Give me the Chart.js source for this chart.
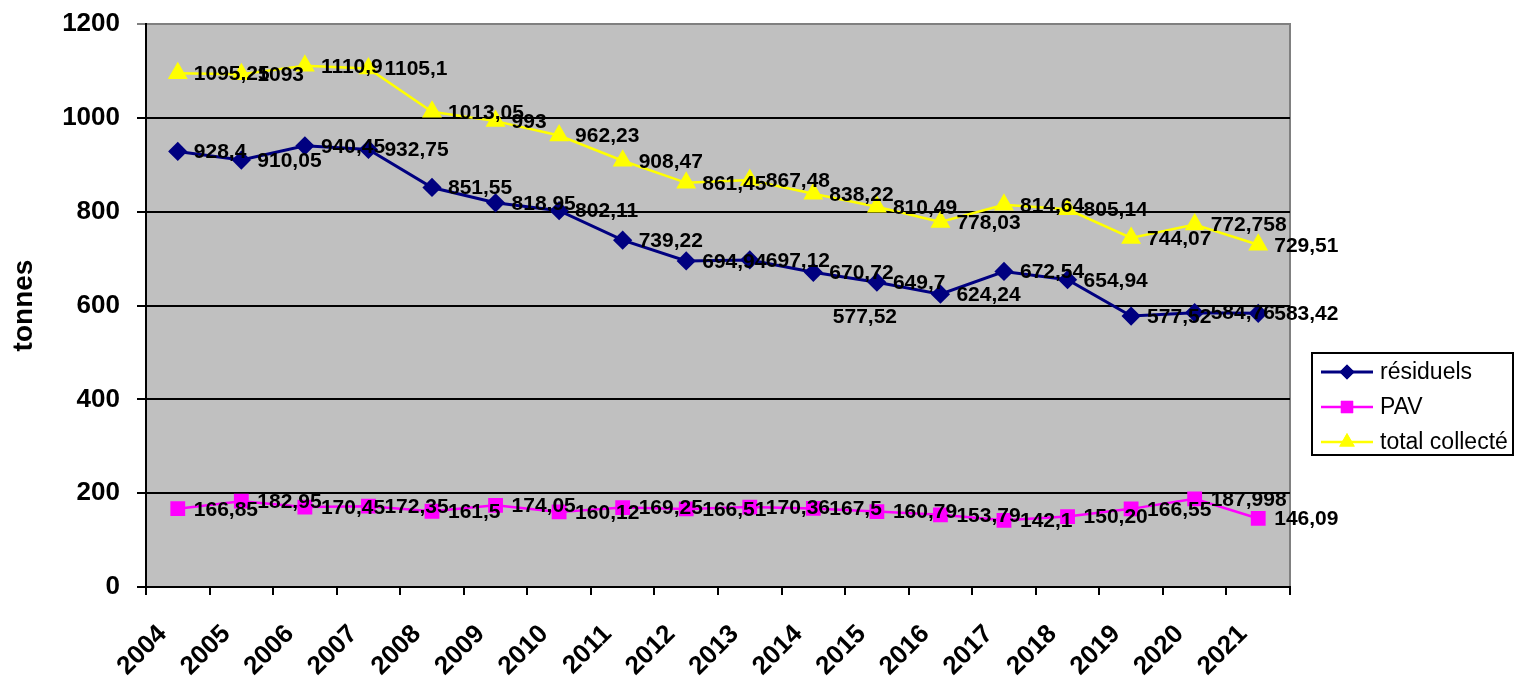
<!DOCTYPE html>
<html lang="fr">
<head>
    <meta charset="UTF-8">
    <title>Tonnages collectés</title>
    <script src="https://cdn.jsdelivr.net/npm/chart.js"></script>
    <style>
        html, body { margin: 0; padding: 0; background: #fff; }
        .chart-container { width: 1516px; height: 678px; }
    </style>
</head>
<body>
    <div class="chart-container">
        <canvas id="lineChart"></canvas>
    </div>

    <script>
        const years = ['2004', '2005', '2006', '2007', '2008', '2009', '2010', '2011', '2012',
                       '2013', '2014', '2015', '2016', '2017', '2018', '2019', '2020', '2021'];

        // values as printed on the chart (comma decimals)
        const residuelsText = ['928,4', '910,05', '940,45', '932,75', '851,55', '818,95', '802,11', '739,22', '694,94',
                               '697,12', '670,72', '649,7', '624,24', '672,54', '654,94', '577,52', '584,76', '583,42'];
        const pavText = ['166,85', '182,95', '170,45', '172,35', '161,5', '174,05', '160,12', '169,25', '166,51',
                         '170,36', '167,5', '160,79', '153,79', '142,1', '150,20', '166,55', '187,998', '146,09'];
        const totalText = ['1095,25', '1093', '1110,9', '1105,1', '1013,05', '993', '962,23', '908,47', '861,45',
                           '867,48', '838,22', '810,49', '778,03', '814,64', '805,14', '744,07', '772,758', '729,51'];

        // a lone label left over in the original, sitting under 2015
        const strayYear = '2015';
        const strayValue = 577.52;
        const strayText = '577,52';

        const toNumbers = list => list.map(s => parseFloat(s.replace(',', '.')));

        const residuels = toNumbers(residuelsText);
        const pav = toNumbers(pavText);
        const total = toNumbers(totalText);

        const FONT = '"Liberation Sans", Arial, sans-serif';

        const plotBackground = {
            id: 'plotBackground',
            beforeDraw(chart) {
                const { ctx, chartArea: a } = chart;
                ctx.save();
                ctx.fillStyle = '#C0C0C0';
                ctx.fillRect(a.left, a.top, a.width, a.height);
                ctx.strokeStyle = '#808080';
                ctx.lineWidth = 2;
                ctx.beginPath();
                ctx.moveTo(a.left, a.top);
                ctx.lineTo(a.right, a.top);
                ctx.lineTo(a.right, a.bottom);
                ctx.stroke();
                ctx.restore();
            }
        };

        const valueLabels = {
            id: 'valueLabels',
            afterDatasetsDraw(chart) {
                const ctx = chart.ctx;
                ctx.save();
                ctx.font = 'bold 21px ' + FONT;
                ctx.fillStyle = '#000';
                ctx.textAlign = 'left';
                ctx.textBaseline = 'middle';
                chart.data.datasets.forEach((ds, i) => {
                    chart.getDatasetMeta(i).data.forEach((pt, j) => {
                        ctx.fillText(ds.valueText[j], pt.x + 16, pt.y + 1);
                    });
                });
                const x = chart.scales.x.getPixelForValue(years.indexOf(strayYear));
                const y = chart.scales.y.getPixelForValue(strayValue);
                ctx.textAlign = 'center';
                ctx.fillText(strayText, x - 12, y + 1);
                ctx.restore();
            }
        };

        const boxLegend = {
            id: 'boxLegend',
            afterDraw(chart) {
                const ctx = chart.ctx;
                const left = 1312, top = 353, width = 201, height = 102, rowH = 35;
                ctx.save();
                ctx.fillStyle = '#fff';
                ctx.fillRect(left, top, width, height);
                ctx.strokeStyle = '#000';
                ctx.lineWidth = 2;
                ctx.strokeRect(left, top, width, height);
                ctx.font = '23px ' + FONT;
                ctx.textBaseline = 'middle';
                ctx.textAlign = 'left';
                chart.data.datasets.forEach((ds, i) => {
                    const y = top + 19 + i * rowH;
                    ctx.strokeStyle = ds.borderColor;
                    ctx.lineWidth = ds.borderWidth;
                    ctx.beginPath();
                    ctx.moveTo(left + 9, y);
                    ctx.lineTo(left + 61, y);
                    ctx.stroke();
                    ctx.fillStyle = ds.pointBackgroundColor;
                    Chart.helpers.drawPoint(ctx, {
                        pointStyle: ds.pointStyle,
                        radius: ds.pointRadius,
                        rotation: 0,
                        borderWidth: 0
                    }, left + 35, y);
                    ctx.fill();
                    ctx.fillStyle = '#000';
                    ctx.fillText(ds.label, left + 68, y + 1);
                });
                ctx.restore();
            }
        };

        const ctxLine = document.getElementById('lineChart').getContext('2d');
        const lineChart = new Chart(ctxLine, {
            type: 'line',
            data: {
                labels: years,
                datasets: [
                    {
                        label: 'résiduels',
                        data: residuels,
                        valueText: residuelsText,
                        borderColor: '#000080',
                        backgroundColor: '#000080',
                        pointBackgroundColor: '#000080',
                        pointBorderColor: '#000080',
                        pointStyle: 'rectRot',
                        pointRadius: 7.5,
                        borderWidth: 3,
                        tension: 0,
                        clip: false
                    },
                    {
                        label: 'PAV',
                        data: pav,
                        valueText: pavText,
                        borderColor: '#FF00FF',
                        backgroundColor: '#FF00FF',
                        pointBackgroundColor: '#FF00FF',
                        pointBorderColor: '#FF00FF',
                        pointStyle: 'rect',
                        pointRadius: 8.7,
                        borderWidth: 2.5,
                        tension: 0,
                        clip: false
                    },
                    {
                        label: 'total collecté',
                        data: total,
                        valueText: totalText,
                        borderColor: '#FFFF00',
                        backgroundColor: '#FFFF00',
                        pointBackgroundColor: '#FFFF00',
                        pointBorderColor: '#FFFF00',
                        pointStyle: 'triangle',
                        pointRadius: 9,
                        borderWidth: 2.5,
                        tension: 0,
                        clip: false
                    }
                ]
            },
            options: {
                responsive: true,
                maintainAspectRatio: false,
                animation: false,
                layout: { padding: { top: 24, right: 226, bottom: 0, left: 0 } },
                plugins: {
                    legend: { display: false },
                    tooltip: { enabled: false }
                },
                scales: {
                    x: {
                        offset: true,
                        grid: {
                            offset: true,
                            drawOnChartArea: false,
                            color: '#000',
                            lineWidth: 2,
                            tickLength: 8
                        },
                        border: { color: '#000', width: 2 },
                        ticks: {
                            color: '#000',
                            minRotation: 45,
                            maxRotation: 45,
                            padding: 24,
                            labelOffset: -15,
                            font: { family: FONT, size: 26, weight: 'bold' }
                        },
                        afterFit(scale) {
                            scale.height = 91;
                            scale.paddingLeft = 0;
                            scale.paddingRight = 0;
                        }
                    },
                    y: {
                        min: 0,
                        max: 1200,
                        ticks: {
                            stepSize: 200,
                            color: '#000',
                            padding: 17,
                            callback: v => String(v),
                            font: { family: FONT, size: 26, weight: 'bold' }
                        },
                        grid: {
                            color: ctx => (ctx.tick && ctx.tick.value === 1200 ? '#808080' : '#000'),
                            lineWidth: 2,
                            tickLength: 9
                        },
                        border: { color: '#000', width: 2 },
                        title: {
                            display: true,
                            text: 'tonnes',
                            color: '#000',
                            padding: { top: 7, bottom: 0 },
                            font: { family: FONT, size: 28, weight: 'bold' }
                        },
                        afterFit(scale) {
                            scale.width = 146;
                            scale.paddingTop = 0;
                            scale.paddingBottom = 0;
                        }
                    }
                }
            },
            plugins: [plotBackground, valueLabels, boxLegend]
        });
    </script>
</body>
</html>
